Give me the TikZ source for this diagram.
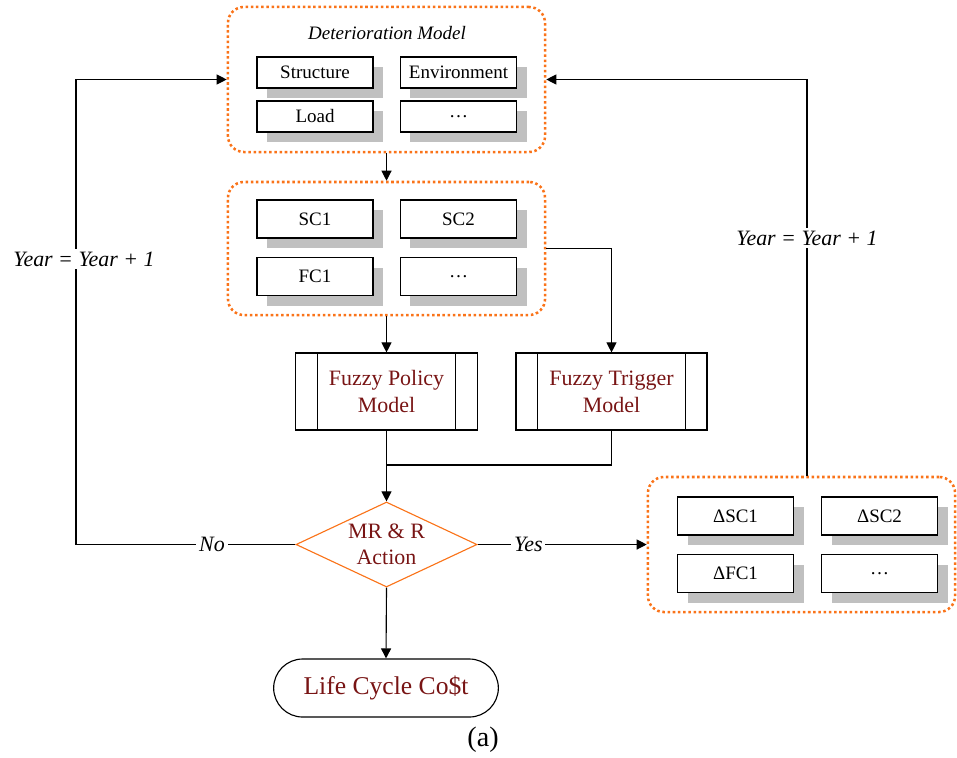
\documentclass[tikz,border=0pt]{standalone}
\usepackage{fontspec}
\setmainfont{Liberation Serif}
\usetikzlibrary{shapes.geometric, shapes.misc, arrows.meta, shadows}
\definecolor{dotorange}{RGB}{250, 115, 25}
\definecolor{darkred}{RGB}{120, 20, 20}
\definecolor{shadowgray}{RGB}{192, 192, 192}
\tikzstyle{group} = [rectangle, draw=dotorange, line width=1.8pt, dash pattern=on 1.8pt off 1.9pt, rounded corners=0.4cm, inner sep=0pt]
\tikzstyle{item} = [rectangle, draw, fill=white, line width=0.8pt, minimum width=2.9cm, minimum height=0.95cm, inner sep=0pt, font=\fontsize{13.5}{16}\selectfont, drop shadow={shadow xshift=0.25cm, shadow yshift=-0.25cm, fill=shadowgray, opacity=1}]
\tikzstyle{model} = [rectangle, draw, line width=0.8pt, minimum height=1.925cm, inner sep=0pt, align=center, text=darkred, font=\fontsize{15.6}{19}\selectfont]
\tikzstyle{decision} = [diamond, draw=dotorange, line width=0.8pt, minimum width=4.525cm, minimum height=2.125cm, aspect=2.13, inner sep=0pt, align=center, text=darkred, font=\fontsize{15.6}{18.5}\selectfont]
\tikzstyle{terminal} = [rounded rectangle, draw, line width=0.8pt, minimum width=5.85cm, minimum height=1.45cm, text=darkred, font=\fontsize{18.2}{22}\selectfont]
\tikzstyle{lbl} = [fill=white, inner sep=2pt, font=\itshape\fontsize{15.6}{19}\selectfont]
\tikzstyle{arrow} = [-{Triangle[length=2.5mm, width=2.5mm]}, line width=0.8pt]
\tikzstyle{line} = [line width=0.8pt]

\begin{document}
\begin{tikzpicture}[x=0.025cm, y=-0.025cm]
    \useasboundingbox (0,0) rectangle (957,757);

    % Deterioration model group
    \node[group, minimum width=7.925cm, minimum height=3.625cm] (det) at (386.5, 79.5) {};
    \node[font=\itshape\fontsize{13.5}{16}\selectfont] (dettitle) at (387, 33) {Deterioration Model};
    \node[item, minimum height=0.775cm] (structure) at (315, 72.5) {Structure};
    \node[item, minimum height=0.775cm] (environment) at (458.5, 72.5) {Environment};
    \node[item, minimum height=0.775cm] (load) at (315, 116.5) {Load};
    \node[item, minimum height=0.775cm] (detmore) at (458.5, 116.5) {\ldots};

    % Condition group
    \node[group, minimum width=7.925cm, minimum height=3.325cm] (cond) at (386.5, 248.5) {};
    \node[item] (sc1) at (315, 219) {SC1};
    \node[item] (sc2) at (458.5, 219) {SC2};
    \node[item] (fc1) at (315, 276.5) {FC1};
    \node[item] (condmore) at (458.5, 276.5) {\ldots};

    % Fuzzy models
    \node[model, minimum width=4.55cm] (policy) at (386.5, 391.5) {Fuzzy Policy\\Model};
    \node[model, minimum width=4.775cm] (trigger) at (611.5, 391.5) {Fuzzy Trigger\\Model};
    \foreach \m in {policy, trigger} {
        \draw[line] ([xshift=0.56cm]\m.north west) -- ([xshift=0.56cm]\m.south west);
        \draw[line] ([xshift=-0.56cm]\m.north east) -- ([xshift=-0.56cm]\m.south east);
    }

    % Decision and result
    \node[decision] (mrr) at (386.5, 544.5) {MR \& R\\Action};
    \node[terminal] (lcc) at (386, 688) {Life Cycle Co\$t};
    \node[font=\fontsize{20}{24}\selectfont] (caption) at (483, 740) {(a)};

    % Change group
    \node[group, minimum width=7.675cm, minimum height=3.375cm] (delta) at (801.5, 544.5) {};
    \node[item] (dsc1) at (735.5, 516) {ΔSC1};
    \node[item] (dsc2) at (879.5, 516) {ΔSC2};
    \node[item] (dfc1) at (735.5, 573.5) {ΔFC1};
    \node[item] (deltamore) at (879.5, 573.5) {\ldots};

    % Corner points
    \coordinate (merge) at (386.5, 465);
    \coordinate (leftLow) at (76, 544.5);
    \coordinate (leftHigh) at (76, 79.5);
    \coordinate (rightHigh) at (807, 79.5);

    % Connectors
    \draw[arrow] (det.south) -- (cond.north);
    \draw[arrow] (cond.south) -- (policy.north);
    \draw[arrow] (cond.east) -| (trigger.north);
    \draw[arrow] (policy.south) -- (mrr.north);
    \draw[line] (trigger.south) |- (merge);
    \draw[arrow] (mrr.south) -- (lcc.north);
    \draw[arrow] (mrr.east) -- node[lbl, pos=0.3] {Yes} (delta.west);
    \draw[arrow] (mrr.west) -- node[lbl, pos=0.38] {No} (leftLow)
        -- node[lbl, pos=0.614, xshift=0.2cm] {Year = Year + 1} (leftHigh) -- (det.west);
    \draw[arrow] (delta.north -| rightHigh) -- node[lbl, pos=0.6] {Year = Year + 1} (rightHigh) -- (det.east);
\end{tikzpicture}
\end{document}
